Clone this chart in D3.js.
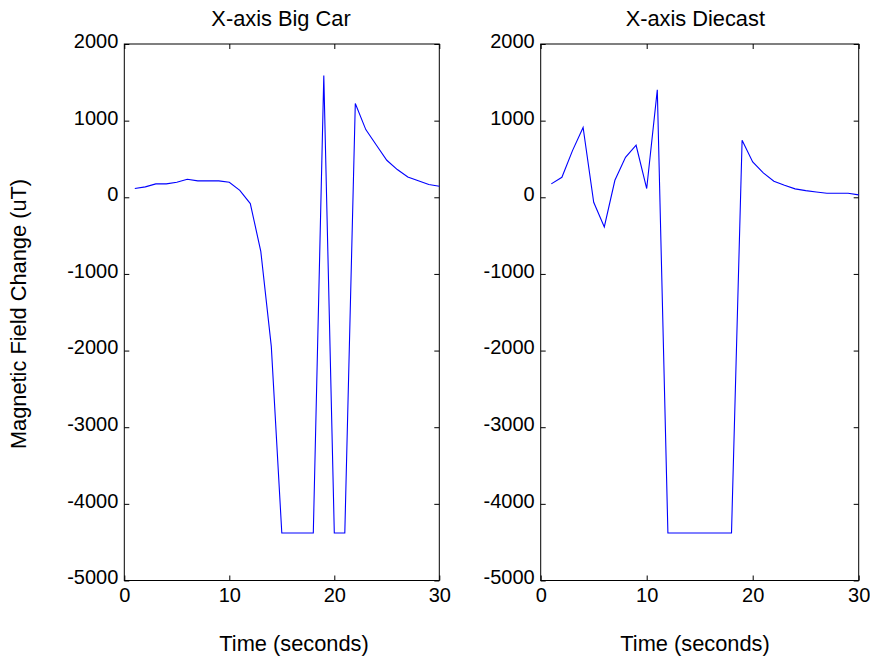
<!DOCTYPE html>
<html>
<head>
<meta charset="utf-8">
<script src="https://cdn.jsdelivr.net/npm/d3@7"></script>
<style>
  html, body { margin: 0; padding: 0; background: #fff; }
  svg { display: block; }
  text { font-family: "Liberation Sans", Arial, Helvetica, sans-serif; fill: #000; }
</style>
</head>
<body>
<svg id="chart" width="870" height="658"></svg>
<script>
// ---- data ----
const time = d3.range(1, 31); // 1..30 seconds
const bigCarValues = [114, 136, 175, 175, 196, 235, 214, 214, 214, 196,
  91, -82, -705, -1945, -4380, -4380, -4380, -4380, 1588, -4380,
  -4380, 1223, 883, 683, 483, 362, 266, 215, 166, 144];
const diecastValues = [175, 261, 609, 910, -65, -386, 222, 522, 679, 114,
  1402, -4380, -4380, -4380, -4380, -4380, -4380, -4380, 744, 462,
  318, 209, 157, 110, 87, 70, 52, 52, 52, 31];
const xTicks = [0, 10, 20, 30];
const yTicks = [-5000, -4000, -3000, -2000, -1000, 0, 1000, 2000];
const titles = ["X-axis Big Car", "X-axis Diecast"];
const xLabel = "Time (seconds)";
const yLabel = "Magnetic Field Change (uT)";

const panels = [
  { title: titles[0], values: bigCarValues, x0: 124.3, x1: 439.3, titleX: 281, xLabelX: 294 },
  { title: titles[1], values: diecastValues, x0: 540.7, x1: 858.7, titleX: 695.3, xLabelX: 695 }
];
const yTop = 44, yBottom = 580.5;
const TICK_FONT = 20;
const LABEL_FONT = 21.8;

const svg = d3.select("#chart");
const fmt = d => String(d); // plain hyphen-minus like the reference

panels.forEach((p) => {
  const x = d3.scaleLinear().domain([0, 30]).range([p.x0, p.x1]);
  const y = d3.scaleLinear().domain([-5000, 2000]).range([yBottom, yTop]);
  const g = svg.append("g");

  // frame
  g.append("rect")
    .attr("x", p.x0).attr("y", yTop)
    .attr("width", p.x1 - p.x0).attr("height", yBottom - yTop)
    .attr("fill", "none").attr("stroke", "#000").attr("stroke-width", 1);

  const styleAxis = (sel, showLabels) => {
    sel.select(".domain").remove();
    sel.selectAll(".tick line").attr("stroke", "#000");
    sel.attr("font-family", null).attr("font-size", null);
    sel.selectAll("text")
      .style("font-family", '"Liberation Sans", Arial, Helvetica, sans-serif')
      .style("font-size", TICK_FONT + "px")
      .attr("fill", "#000");
    if (!showLabels) sel.selectAll("text").remove();
  };

  // bottom axis
  const gb = g.append("g").attr("transform", `translate(0,${yBottom})`)
    .call(d3.axisBottom(x).tickValues(xTicks).tickSize(-5).tickPadding(7).tickFormat(fmt));
  styleAxis(gb, true);
  // top axis
  const gt = g.append("g").attr("transform", `translate(0,${yTop})`)
    .call(d3.axisTop(x).tickValues(xTicks).tickSize(-5));
  styleAxis(gt, false);
  // left axis
  const gl = g.append("g").attr("transform", `translate(${p.x0},0)`)
    .call(d3.axisLeft(y).tickValues(yTicks).tickSize(-5).tickPadding(6).tickFormat(fmt));
  styleAxis(gl, true);
  gl.selectAll("text").attr("dy", "0.17em");
  // right axis
  const gr = g.append("g").attr("transform", `translate(${p.x1},0)`)
    .call(d3.axisRight(y).tickValues(yTicks).tickSize(-5));
  styleAxis(gr, false);

  // line
  const line = d3.line().x((d, i) => x(time[i])).y(d => y(d));
  g.append("path").datum(p.values)
    .attr("d", line)
    .attr("fill", "none").attr("stroke", "#0000ff").attr("stroke-width", 1.1);

  // title
  g.append("text")
    .attr("x", p.titleX).attr("y", 26)
    .attr("text-anchor", "middle").style("font-size", LABEL_FONT + "px")
    .text(p.title);

  // x label
  g.append("text")
    .attr("x", p.xLabelX).attr("y", 651)
    .attr("text-anchor", "middle").style("font-size", LABEL_FONT + "px")
    .text(xLabel);
});

// y label
svg.append("text")
  .attr("transform", `translate(26,314) rotate(-90)`)
  .attr("text-anchor", "middle").style("font-size", LABEL_FONT + "px")
  .text(yLabel);
</script>
</body>
</html>
